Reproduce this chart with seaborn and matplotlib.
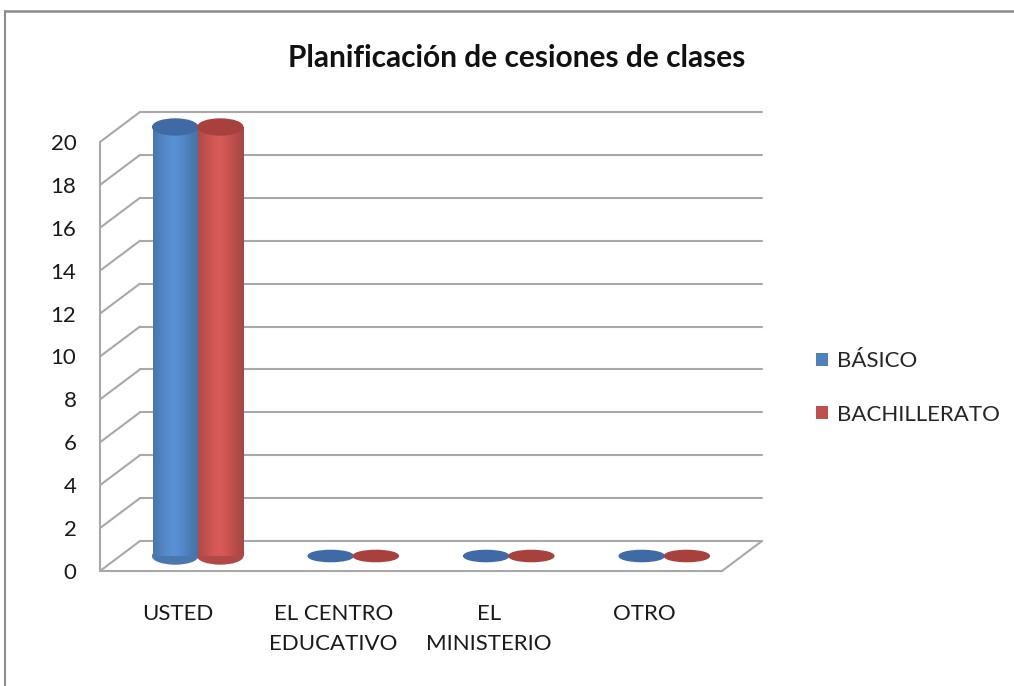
import numpy as np
import pandas as pd
import matplotlib
matplotlib.use("Agg")
import matplotlib.pyplot as plt
import matplotlib.transforms as mtrans
from matplotlib.patches import Ellipse, Patch
from matplotlib.lines import Line2D
import matplotlib.colors as mcolors
import seaborn as sns

# ---- data ----
categories = ["USTED", "EL CENTRO\nEDUCATIVO", "EL\nMINISTERIO", "OTRO"]
series_names = ["BÁSICO", "BACHILLERATO"]
basico = [20, 0, 0, 0]
bachillerato = [20, 0, 0, 0]
y_ticks = list(range(0, 21, 2))
title = "Planificación de cesiones de clases"

colors = ["#4F81BD", "#C0504D"]
top_colors = ["#3F6AA6", "#A8413E"]

sns.set_theme(style="white")
plt.rcParams["font.family"] = ["Lato", "DejaVu Sans"]

df = pd.DataFrame({
    "cat": categories * 2,
    "val": basico + bachillerato,
    "serie": [series_names[0]] * 4 + [series_names[1]] * 4,
})

DPI = 100
fig = plt.figure(figsize=(10.14, 6.86), dpi=DPI)
W, H = 1014, 686
ax = fig.add_axes([100 / W, (H - 571) / H, 622 / W, 429 / H])

sns.barplot(data=df, x="cat", y="val", hue="serie", order=categories,
            hue_order=series_names, palette=colors, width=0.58, ax=ax,
            legend=False, saturation=1)

ax.set_xlim(-0.5, 3.5)
ax.set_ylim(0, 20)
for s in ax.spines.values():
    s.set_visible(False)
ax.set_xlabel("")
ax.set_ylabel("")

back_tr = ax.transData + mtrans.ScaledTranslation(40 / DPI, 30 / DPI, fig.dpi_scale_trans)
mid_tr = ax.transData + mtrans.ScaledTranslation(20 / DPI, 15 / DPI, fig.dpi_scale_trans)
grid_kw = dict(color="#a8a8a8", lw=1.5, clip_on=False, zorder=0)

fig.canvas.draw()
inv = ax.transData.inverted()
x0, x1 = ax.get_xlim()
for y in y_ticks:
    ax.plot([x0, x1], [y, y], transform=back_tr, **grid_kw)
    bx, by = inv.transform(back_tr.transform((x0, y)))
    ax.plot([x0, bx], [y, by], **grid_kw)
# front left vertical and floor
ax.plot([x0, x0], [0, 20], **grid_kw)
ax.plot([x0, x1], [0, 0], **grid_kw)
bx, by = inv.transform(back_tr.transform((x1, 0)))
ax.plot([x1, bx], [0, by], **grid_kw)

px_per_unit = 429 / 20
eh = 16 / px_per_unit

bars = list(ax.patches)
n = len(categories)
for i, p in enumerate(bars):
    si = i // n
    base = np.array(mcolors.to_rgb(colors[si]))
    bx0 = p.get_x()
    bw = p.get_width()
    h = p.get_height()
    p.set_visible(False)
    cx = bx0 + bw / 2
    if h > 0:
        t = np.linspace(0, 1, 256)
        prof = np.exp(-((t - 0.45) / 0.38) ** 2)
        light = 0.85 + 0.27 * prof
        img = np.clip(base[None, :] * light[:, None], 0, 1)
        img = img[None, :, :]
        ax.add_patch(Ellipse((cx, 0), bw, eh, transform=mid_tr,
                             color=base * 0.92, zorder=2, clip_on=False))
        im = ax.imshow(img, extent=[bx0, bx0 + bw, 0, h], transform=mid_tr,
                       aspect="auto", zorder=3, interpolation="bilinear")
        im.set_clip_on(False)
        ax.add_patch(Ellipse((cx, h), bw, eh, transform=mid_tr,
                             color=top_colors[si], zorder=4, clip_on=False))
    else:
        ax.add_patch(Ellipse((cx, 0), bw, eh * 0.7, transform=mid_tr,
                             color=top_colors[si], zorder=4, clip_on=False))

ax.set_xlim(x0, x1)
ax.set_ylim(0, 20)
ax.set_yticks(y_ticks)
ax.set_yticklabels([str(v) for v in y_ticks], fontsize=16, color="#1a1a1a")
ax.set_xticks(range(n))
ax.set_xticklabels(categories, fontsize=16, color="#1a1a1a", linespacing=1.62)
ax.tick_params(axis="y", length=0, pad=17)
ax.tick_params(axis="x", length=0, pad=24)
for lbl in ax.get_xticklabels():
    lbl.set_verticalalignment("top")

fig.text(517 / W, 1 - 58 / H, title, ha="center", va="center",
         fontsize=21.5, fontweight="bold", color="#111111")

handles = [Patch(facecolor=c, edgecolor="none") for c in colors]
fig.legend(handles, series_names, loc="center left",
           bbox_to_anchor=(796 / W, 1 - 388 / H), frameon=False,
           fontsize=16, handlelength=0.55, handleheight=0.55,
           handletextpad=0.4, labelspacing=1.5)

# figure border (top and left)
fig.add_artist(Line2D([5 / W, 1.0], [1 - 11 / H, 1 - 11 / H],
                      transform=fig.transFigure, color="#8c8c8c", lw=1.8))
fig.add_artist(Line2D([5 / W, 5 / W], [0, 1 - 11 / H],
                      transform=fig.transFigure, color="#8c8c8c", lw=1.5))

fig.savefig("out.png", dpi=DPI)
